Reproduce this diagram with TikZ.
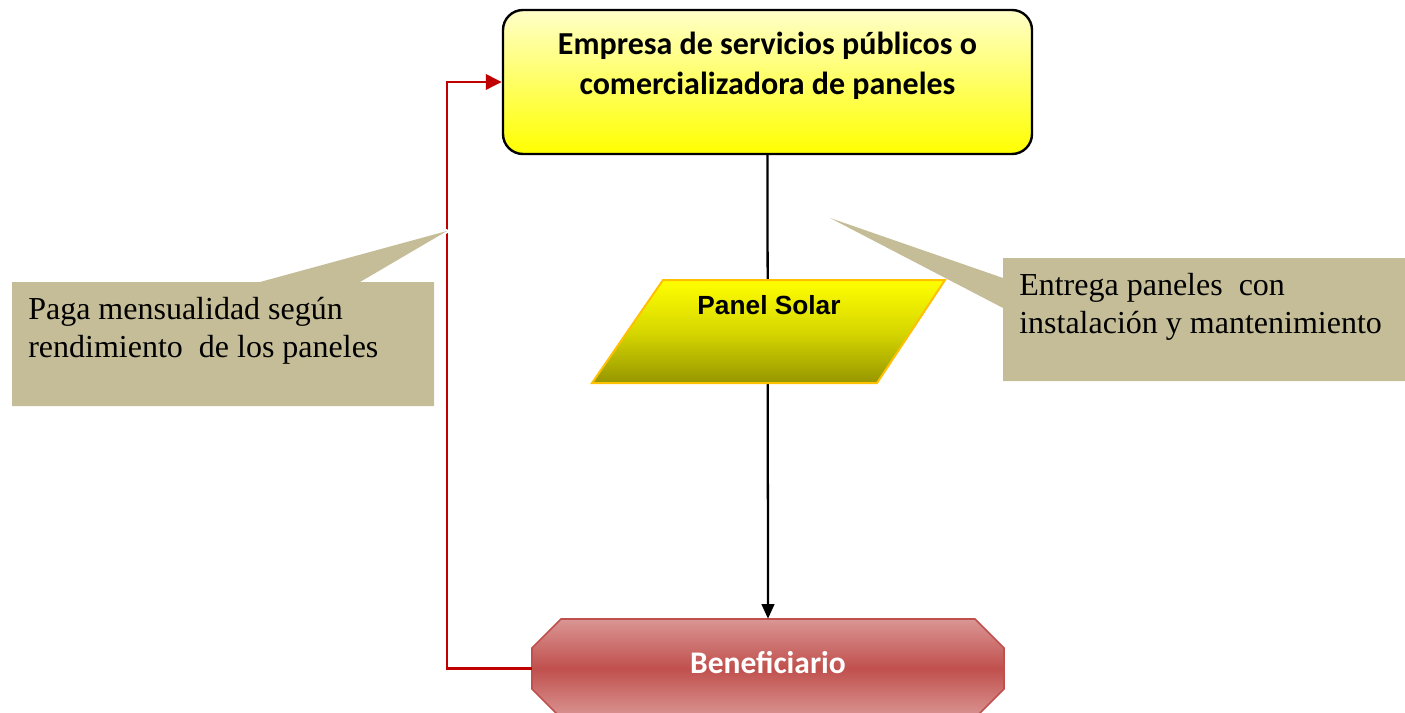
\documentclass[tikz,border=0pt]{standalone}
\usepackage{fontspec}
\setmainfont{Liberation Serif}
\newfontfamily\calibri{Carlito}
\newfontfamily\arial{Liberation Sans}
\usetikzlibrary{arrows.meta}
\definecolor{tanc}{HTML}{C4BD97}
\definecolor{darkredc}{HTML}{C00000}
\definecolor{boxred}{HTML}{C0504D}
\definecolor{lightred}{HTML}{DA9694}
\definecolor{olivec}{RGB}{150,150,0}
\definecolor{olivemid}{RGB}{215,215,0}
\definecolor{paleyellow}{RGB}{255,255,200}
\definecolor{orangeb}{HTML}{FFC000}
\begin{document}
\begin{tikzpicture}[x=0.75pt,y=-0.75pt,
  callout/.style={fill=tanc},
  calloutgap/.style={draw=white, line width=3pt, line join=round},
  calltext/.style={font=\fontsize{24}{28}\selectfont, align=left, anchor=base west, inner sep=0pt},
  empbox/.style={draw=black, line width=1.8pt, rounded corners=15pt, top color=paleyellow, bottom color=yellow, minimum width=396.75pt, minimum height=108pt, inner sep=0pt},
  emptext/.style={font=\calibri\bfseries\fontsize{24}{30}\selectfont, align=center, anchor=base, inner sep=0pt},
  benefbox/.style={minimum width=354pt, minimum height=74.25pt, inner sep=0pt},
  beneftext/.style={font=\calibri\bfseries\fontsize{23.6}{27}\selectfont, text=white, anchor=base, inner sep=0pt},
  paneltext/.style={font=\arial\bfseries\fontsize{19.7}{22}\selectfont, anchor=base, inner sep=0pt},
  blackarrow/.style={draw=black, line width=1.7pt, -{Triangle[length=11pt,width=9.5pt]}},
  redarrow/.style={draw=darkredc, line width=1.7pt, -{Triangle[length=12pt,width=11.5pt]}}
]
\useasboundingbox (0,0) rectangle (1405,713);

% top box
\node[empbox] (emp) at (767.5,82) {};
\node[emptext] (emptxt) at (767.5,95) {Empresa de servicios públicos o\\comercializadora de paneles};

% beneficiario
\shade[top color=lightred, bottom color=lightred, middle color=boxred, draw=boxred, line width=1.3pt]
  (561,619) -- (975,619) -- (1004,648) -- (1004,689) -- (975,718) -- (561,718) -- (532,689) -- (532,648) -- cycle;
\node[benefbox] (benef) at (768,668.5) {};
\node[beneftext] (beneftxt) at (768,673) {Beneficiario};

% connectors
\draw[redarrow] (benef.west) -- ++(-85,0) |- (emp.west);
\draw[blackarrow] (emp.south) -- (benef.north);

% callouts
\path[calloutgap] (260,282) -- (447,231) -- (360,282);
\path[callout] (12,282) -- (260,282) -- (447,231) -- (360,282) -- (434,282) -- (434,406) -- (12,406) -- cycle;
\node[calltext] (lefttxt) at (28,357) {Paga mensualidad según\\rendimiento\ \ de los paneles};
\path[callout] (1003,258) -- (1405,258) -- (1405,381) -- (1003,381) -- (1003,308) -- (830,218) -- (1003,278) -- cycle;
\node[calltext] (righttxt) at (1019,333) {Entrega paneles\ \ con\\instalación y mantenimiento};

% panel solar
\shade[top color=yellow, bottom color=olivec, middle color=olivemid, draw=orangeb, line width=1.5pt]
  (663,280) -- (945,280) -- (877,383) -- (592,383) -- cycle;
\node[paneltext] (panel) at (769,314) {Panel Solar};
\end{tikzpicture}
\end{document}
